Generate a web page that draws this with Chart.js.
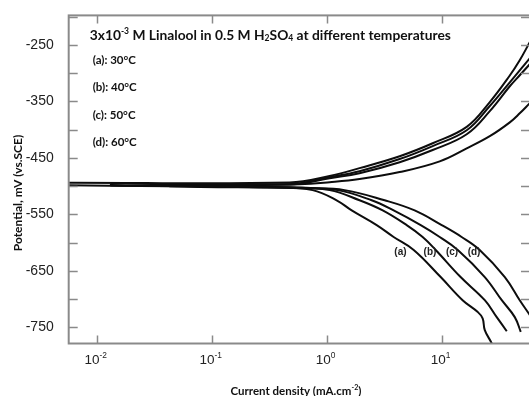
<!DOCTYPE html>
<html>
<head>
<meta charset="utf-8">
<script src="https://cdn.jsdelivr.net/npm/chart.js@4.4.0/dist/chart.umd.min.js"></script>
<style>
  html, body { margin: 0; padding: 0; background: #fff; overflow: hidden; }
  #wrap { width: 531px; height: 396px; position: relative; }
</style>
</head>
<body>
<div id="wrap"><canvas id="tafel"></canvas></div>
<script>
// axis ticks
const decades = [0.01, 0.1, 1, 10]
const decadePowers = ['-2', '-1', '0', '1']
const yLabelled = [-250, -350, -450, -550, -650, -750]

// curves
const curveNames = ['(a)', '(b)', '(c)', '(d)']
const temps = [30, 40, 50, 60]
const labelI = [4.38, 7.91, 12.3, 19.1]
const labelE = -617

// each sweep: cathodic branch -> near Ecorr -> anodic branch (mA/cm2, mV)
const iA = [28.4, 27.2, 23.7, 22.7, 20.6, 15.2, 9.80, 5.71, 3.82, 2.72, 1.65, 1.22, 0.754, 0.389, 0.003, 0.003, 0.475, 1.06, 1.93, 4.31, 8.35, 16.5, 26.2, 39.1, 47.7, 58.3]
const eA = [-787, -778, -755, -734, -723, -702, -661, -613, -590, -569, -543, -525, -507, -502, -497.5, -494, -493.5, -482, -468, -447, -424, -395, -351, -304, -277, -245]

const iB = [36.8, 30.1, 23.7, 14.6, 8.87, 6.83, 4.96, 3.07, 1.93, 1.06, 0.475, 0.0134, 0.0134, 0.475, 1.06, 1.93, 4.31, 8.35, 16.5, 26.2, 39.1, 47.7, 58.3]
const eB = [-757, -732, -702, -661, -613, -590, -569, -543, -525, -507, -502, -499, -496, -496.5, -484, -473.5, -452, -429, -401, -358, -316, -295, -273.5]

const iC = [48.7, 43.2, 33.3, 23.7, 13.8, 9.61, 6.57, 3.82, 2.46, 1.24, 0.581, 0.043, 0.043, 0.526, 1.06, 1.93, 4.31, 8.35, 16.5, 26.2, 39.1, 47.7, 58.3]
const eC = [-758, -732, -702, -661, -613, -590, -569, -543, -525, -507, -503.5, -500, -497, -496.5, -486, -477, -457.5, -436, -408, -367, -323, -303.5, -284]

const iD = [58.3, 47.7, 35.4, 21.4, 14.9, 10.0, 5.82, 3.19, 1.43, 0.710, 0.14, 0.14, 0.581, 1.06, 1.93, 4.31, 9.61, 16.5, 26.2, 39.1, 47.7, 58.3]
const eD = [-728, -702, -661, -613, -590, -569, -543, -525, -507, -503.5, -500, -497, -496.5, -493, -487.5, -475, -456, -433, -411.5, -387, -371, -353]

const sweeps = [[iA, eA], [iB, eB], [iC, eC], [iD, eD]]

const axisGrey = '#8a8a8a'
const textFont = 'Lato, "Open Sans", sans-serif'
const tickFont = '"Liberation Sans", Arial, sans-serif'

// draw text made of normal / sup / sub pieces, left aligned at x, middle at y
function drawRich(ctx, parts, x, y, size, weight, family) {
  ctx.textBaseline = 'middle'
  ctx.textAlign = 'left'
  let cx = x
  parts.forEach(([txt, mode]) => {
    let s = size, dy = 0
    if (mode === 'sup') { s = size * 0.62; dy = -size * 0.32 }
    if (mode === 'sub') { s = size * 0.62; dy = size * 0.22 }
    ctx.font = `${weight} ${s}px ${family}`
    ctx.fillText(txt, cx, y + dy)
    cx += ctx.measureText(txt).width
  })
  return cx - x
}

function richWidth(ctx, parts, size, weight, family) {
  let w = 0
  parts.forEach(([txt, mode]) => {
    const s = mode ? size * 0.62 : size
    ctx.font = `${weight} ${s}px ${family}`
    w += ctx.measureText(txt).width
  })
  return w
}

const decorPlugin = {
  id: 'decor',
  afterDraw(chart) {
    const { ctx, chartArea: a, scales: { x, y } } = chart
    ctx.save()

    // inward tick marks on all four sides
    ctx.strokeStyle = axisGrey
    ctx.lineWidth = 1.5
    ctx.beginPath()
    y.ticks.forEach(t => {
      const py = Math.round(y.getPixelForValue(t.value)) + 0.5
      ctx.moveTo(a.left, py); ctx.lineTo(a.left + 9, py)
      ctx.moveTo(a.right, py); ctx.lineTo(a.right - 9, py)
    })
    x.ticks.forEach(t => {
      const px = Math.round(x.getPixelForValue(t.value)) + 0.5
      ctx.moveTo(px, a.top); ctx.lineTo(px, a.top + 8)
      ctx.moveTo(px, a.bottom); ctx.lineTo(px, a.bottom - 8)
    })
    ctx.stroke()
    ctx.lineWidth = 2
    ctx.strokeRect(a.left, a.top, a.right - a.left, a.bottom - a.top)

    // x tick labels 10^n
    ctx.fillStyle = '#222'
    decades.forEach((v, k) => {
      const px = x.getPixelForValue(v)
      const parts = [['10', ''], [decadePowers[k], 'sup']]
      const w = richWidth(ctx, parts, 13.5, 'normal', tickFont)
      drawRich(ctx, parts, px - w / 2 - 1, a.bottom + 17, 13.5, 'normal', tickFont)
    })

    // curve labels
    ctx.fillStyle = '#222'
    ctx.font = `bold 10px ${tickFont}`
    ctx.textAlign = 'center'
    ctx.textBaseline = 'middle'
    curveNames.forEach((n, k) => {
      ctx.fillText(n, x.getPixelForValue(labelI[k]), y.getPixelForValue(labelE))
    })

    // title inside the plot
    ctx.fillStyle = '#111'
    drawRich(ctx, [['3x10', ''], ['-3', 'sup'], [' M Linalool in 0.5 M H', ''], ['2', 'sub'], ['SO', ''], ['4', 'sub'], [' at different temperatures', '']],
      a.left + 21, a.top + 20, 13.8, 'bold', textFont)

    // legend text
    curveNames.forEach((n, k) => {
      drawRich(ctx, [[`${n}: ${temps[k]}°C`, '']], a.left + 24, a.top + 45 + k * 27.3, 11.5, 'bold', textFont)
    })

    // axis titles
    const xt = [['Current density (mA.cm', ''], ['-2', 'sup'], [')', '']]
    const xw = richWidth(ctx, xt, 11.5, 'bold', textFont)
    drawRich(ctx, xt, 296 - xw / 2, 391, 11.5, 'bold', textFont)

    ctx.translate(18.5, 193)
    ctx.rotate(-Math.PI / 2)
    ctx.font = `bold 12px ${textFont}`
    ctx.textAlign = 'center'
    ctx.textBaseline = 'middle'
    ctx.fillText('Potential, mV (vs.SCE)', 0, 0)
    ctx.restore()
  }
}

const datasets = sweeps.map(([cur, pot], k) => ({
  label: curveNames[k],
  data: cur.map((v, j) => ({ x: v, y: pot[j] })),
  borderColor: '#0d0d0d',
  borderWidth: 2,
  pointRadius: 0,
  tension: 0.4,
  fill: false
}))

new Chart(document.getElementById('tafel'), {
  type: 'line',
  data: { datasets },
  options: {
    responsive: true,
    maintainAspectRatio: false,
    devicePixelRatio: 1,
    animation: false,
    layout: { padding: { top: 15, right: 1, left: 0, bottom: 0 } },
    plugins: { legend: { display: false }, tooltip: { enabled: false } },
    scales: {
      x: {
        type: 'logarithmic',
        min: 0.00571,
        max: 58.6,
        afterBuildTicks: s => { s.ticks = decades.map(v => ({ value: v })) },
        afterFit: s => { s.height = 52.5 },
        ticks: { display: false },
        grid: { display: false },
        border: { display: false }
      },
      y: {
        type: 'linear',
        min: -778.7,
        max: -197.5,
        afterBuildTicks: s => {
          const t = []
          for (let v = -750; v <= -200; v += 50) t.push({ value: v })
          s.ticks = t
        },
        afterFit: s => { s.width = 68.7 },
        ticks: {
          autoSkip: false,
          padding: 7,
          color: '#222',
          font: { family: tickFont, size: 14 },
          callback: v => yLabelled.includes(v) ? String(v) : ''
        },
        grid: { display: false },
        border: { display: false }
      }
    }
  },
  plugins: [decorPlugin]
})
</script>
</body>
</html>
